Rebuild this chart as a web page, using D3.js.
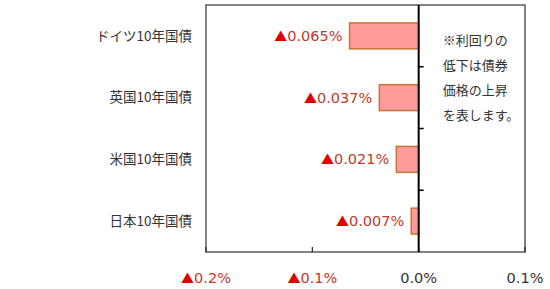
<!DOCTYPE html>
<html>
<head>
<meta charset="utf-8">
<script src="https://cdn.jsdelivr.net/npm/d3@7"></script>
<style>
  body { margin: 0; background: #fff; }
  text { font-family: "Noto Sans CJK JP", "Noto Sans", sans-serif; }
  text.num { font-family: "DejaVu Sans", "Noto Sans CJK JP", sans-serif; }
  tspan.tri { font-family: "Noto Sans CJK JP", sans-serif; }
</style>
</head>
<body>
<div id="chart"></div>
<script>
// data
var categories = ["ドイツ10年国債", "英国10年国債", "米国10年国債", "日本10年国債"];
var values = [-0.065, -0.037, -0.021, -0.007];
var xTicks = [-0.2, -0.1, 0.0, 0.1];
var noteLines = ["※利回りの", "低下は債券", "価格の上昇", "を表します。"];

var width = 550, height = 289;
var margin = {top: 5, right: 25, bottom: 37, left: 206};
var w = width - margin.left - margin.right,
    h = height - margin.top - margin.bottom;

var svg = d3.select("#chart")
  .append("svg")
  .attr("width", width)
  .attr("height", height)
  .append("g")
  .attr("transform", "translate(" + margin.left + "," + margin.top + ")");

var x = d3.scaleLinear().domain([-0.2, 0.1]).range([0, w]);
var y = d3.scaleBand().domain(categories).range([0, h]).paddingInner(0.58).paddingOuter(0.29);
var yb = d3.scaleBand().domain(categories).range([0, h]);

// frame
svg.append("rect")
  .attr("x", 0).attr("y", 0)
  .attr("width", w).attr("height", h)
  .attr("fill", "none")
  .attr("stroke", "#595959")
  .attr("stroke-width", 1.5);

// small ticks on bottom axis (pointing inside)
svg.selectAll(".xtick")
  .data(xTicks)
  .enter()
  .append("line")
  .attr("x1", d => x(d)).attr("x2", d => x(d))
  .attr("y1", h).attr("y2", h - 5)
  .attr("stroke", "#222")
  .attr("stroke-width", 1.2);

// x labels
var xl = svg.selectAll(".xlab")
  .data(xTicks)
  .enter()
  .append("text")
  .attr("class", "num")
  .attr("x", d => x(d))
  .attr("y", h + 31)
  .attr("text-anchor", "middle")
  .style("font-size", "14.5px");
xl.filter(d => d < 0).append("tspan").attr("class", "tri").attr("fill", "#e00000").style("font-size", "13px").text("▲");
xl.append("tspan")
  .attr("fill", d => d < 0 ? "#c0392b" : "#333")
  .text(d => Math.abs(d).toFixed(1) + "%");

// bars
svg.selectAll("mybar")
  .data(values)
  .enter()
  .append("rect")
  .attr("x", d => x(Math.min(0, d)))
  .attr("y", (d, i) => y(categories[i]))
  .attr("width", d => Math.abs(x(d) - x(0)))
  .attr("height", y.bandwidth())
  .attr("fill", "#ff9b9b")
  .attr("stroke", "#c87533")
  .attr("stroke-width", 1.5);

// zero axis
svg.append("line")
  .attr("x1", x(0)).attr("x2", x(0))
  .attr("y1", 0).attr("y2", h)
  .attr("stroke", "#000")
  .attr("stroke-width", 2);

// category ticks on zero axis
svg.selectAll(".ctick")
  .data(categories.slice(1))
  .enter()
  .append("line")
  .attr("x1", x(0)).attr("x2", x(0) + 5)
  .attr("y1", d => yb(d)).attr("y2", d => yb(d))
  .attr("stroke", "#000")
  .attr("stroke-width", 1.5);

// value labels
var vl = svg.selectAll(".vlab")
  .data(values)
  .enter()
  .append("text")
  .attr("class", "num")
  .attr("x", d => x(d) - 7)
  .attr("y", (d, i) => yb(categories[i]) + yb.bandwidth() / 2)
  .attr("dy", "0.35em")
  .attr("text-anchor", "end")
  .style("font-size", "14.5px");
vl.append("tspan").attr("class", "tri").attr("fill", "#e00000").style("font-size", "13px").text("▲");
vl.append("tspan").attr("fill", "#c0392b").text(d => Math.abs(d).toFixed(3) + "%");

// category labels
svg.selectAll(".clab")
  .data(categories)
  .enter()
  .append("text")
  .attr("x", -14)
  .attr("y", d => yb(d) + yb.bandwidth() / 2)
  .attr("dy", "0.35em")
  .attr("text-anchor", "end")
  .attr("fill", "#333")
  .style("font-size", "13.5px")
  .text(d => d);

// note
svg.selectAll(".note")
  .data(noteLines)
  .enter()
  .append("text")
  .attr("x", x(0) + 24)
  .attr("y", (d, i) => 35 + i * 25)
  .attr("dy", "0.35em")
  .attr("fill", "#333")
  .style("font-size", "13px")
  .text(d => d);
</script>
</body>
</html>
